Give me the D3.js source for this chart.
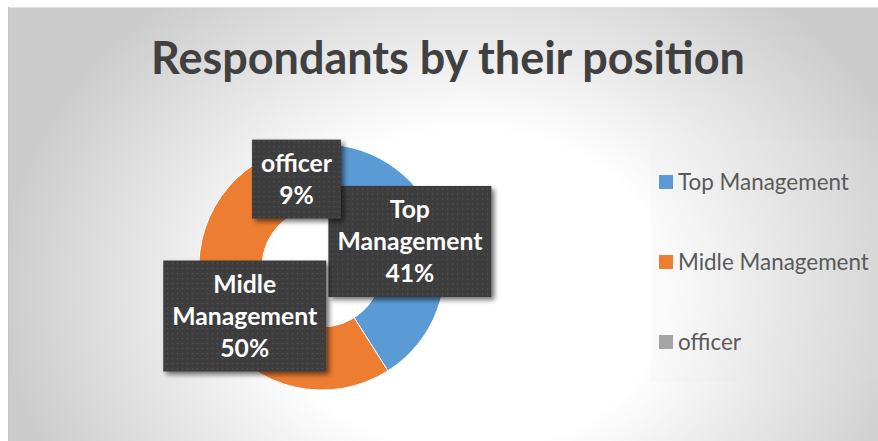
<!DOCTYPE html>
<html>
<head>
<meta charset="utf-8">
<script src="https://cdn.jsdelivr.net/npm/d3@7"></script>
<style>
  html, body { margin: 0; padding: 0; background: #ffffff; }
  svg { display: block; }
</style>
</head>
<body>
<svg id="chart" width="878" height="441"></svg>
<script>
// Survey breakdown of respondents by job position
const categories = ["Top Management", "Midle Management", "officer"];
const shares = [41, 50, 9];
const colors = ["#5B9BD5", "#ED7D31", "#A5A5A5"];
const titleText = "Respondants by their position";

const W = 878, H = 441;
const svg = d3.select("#chart");
const defs = svg.append("defs");

// Soft elliptical backdrop: white centre fading to grey at the edges
const bg = defs.append("radialGradient").attr("id", "bgGrad")
  .attr("gradientUnits", "userSpaceOnUse")
  .attr("cx", 0).attr("cy", 0).attr("r", 1)
  .attr("gradientTransform", "translate(470,290) scale(470,380)");
bg.append("stop").attr("offset", "0").attr("stop-color", "#ffffff");
bg.append("stop").attr("offset", "0.42").attr("stop-color", "#ffffff");
bg.append("stop").attr("offset", "0.66").attr("stop-color", "#e9e9e9");
bg.append("stop").attr("offset", "1").attr("stop-color", "#cccccc");

// Legend panel gradient
const lg = defs.append("linearGradient").attr("id", "legGrad")
  .attr("x1", 0).attr("x2", 1).attr("y1", 0).attr("y2", 0);
lg.append("stop").attr("offset", "0").attr("stop-color", "#f1f1f1");
lg.append("stop").attr("offset", "1").attr("stop-color", "#d8d8d8");

// Dotted texture for data label boxes
const pat = defs.append("pattern").attr("id", "dots")
  .attr("patternUnits", "userSpaceOnUse").attr("width", 5).attr("height", 5);
pat.append("rect").attr("width", 5).attr("height", 5).attr("fill", "#3c3c3c");
pat.append("rect").attr("x", 2).attr("y", 2).attr("width", 1.3).attr("height", 1.3).attr("fill", "#565656");

// Drop shadow for label boxes
const sh = defs.append("filter").attr("id", "shadow")
  .attr("x", "-20%").attr("y", "-20%").attr("width", "140%").attr("height", "140%");
sh.append("feGaussianBlur").attr("in", "SourceAlpha").attr("stdDeviation", 2.5).attr("result", "b");
sh.append("feOffset").attr("in", "b").attr("dx", 3).attr("dy", 3).attr("result", "o");
sh.append("feComponentTransfer").attr("in", "o").attr("result", "s")
  .append("feFuncA").attr("type", "linear").attr("slope", 0.55);
const mg = sh.append("feMerge");
mg.append("feMergeNode").attr("in", "s");
mg.append("feMergeNode").attr("in", "SourceGraphic");

// Chart area
svg.append("rect").attr("x", 8).attr("y", 7).attr("width", W - 8).attr("height", H - 7)
  .attr("fill", "url(#bgGrad)");
svg.append("line").attr("x1", 8).attr("x2", W).attr("y1", 7.5).attr("y2", 7.5)
  .attr("stroke", "#e2e2e2").attr("stroke-width", 1);
svg.append("line").attr("x1", 8.5).attr("x2", 8.5).attr("y1", 7).attr("y2", H)
  .attr("stroke", "#c4c4c4").attr("stroke-width", 1);

const FONT = "Lato, 'Open Sans', sans-serif";

// Fit a text element's font size so it spans the given width
function fitText(sel, width) {
  const len = sel.node().getComputedTextLength();
  const fs = parseFloat(sel.attr("font-size"));
  sel.attr("font-size", fs * width / len);
  return fs * width / len;
}

// Title
const title = svg.append("text")
  .attr("x", 448).attr("y", 74)
  .attr("text-anchor", "middle")
  .attr("font-family", FONT).attr("font-weight", 700)
  .attr("font-size", 40).attr("fill", "#404040")
  .text(titleText);
fitText(title, 594);

// Donut
const cx = 322, cy = 267, rOuter = 123, rInner = 60;
const pie = d3.pie().sort(null).value(d => d.v).startAngle(0).endAngle(2 * Math.PI);
const data = categories.map((c, i) => ({ c, v: shares[i], color: colors[i] }));
const arcs = pie(data);
const arc = d3.arc().innerRadius(rInner).outerRadius(rOuter);
const total = d3.sum(shares);

const g = svg.append("g").attr("transform", `translate(${cx},${cy})`);
g.selectAll("path.slice").data(arcs).join("path")
  .attr("class", "slice")
  .attr("d", arc)
  .attr("fill", d => d.data.color)
  .attr("stroke", "#ffffff").attr("stroke-width", 1);

// Label font sized so that the word "Management" is 145px wide
const probe = svg.append("text").attr("font-family", FONT).attr("font-weight", 700)
  .attr("font-size", 20).text("Management");
const labelFS = fitText(probe, 145);
probe.remove();

// Data labels: category name (wrapped) and percentage in dark boxes at slice centroids
const lineH = 32;
const padX = 9, padY = 8;
arcs.forEach(d => {
  const [lx, ly] = arc.centroid(d);
  const pct = Math.round(d.data.v / total * 100) + "%";
  const words = d.data.c.split(" ");
  const lines = words.concat([pct]);
  const lab = g.append("g").attr("transform", `translate(${lx},${ly})`);
  const box = lab.append("rect").attr("fill", "url(#dots)").attr("filter", "url(#shadow)");
  const t = lab.append("text")
    .attr("text-anchor", "middle")
    .attr("font-family", FONT).attr("font-weight", 700)
    .attr("font-size", labelFS).attr("fill", "#ffffff");
  const n = lines.length;
  lines.forEach((s, i) => {
    t.append("tspan").attr("x", 0)
      .attr("y", (i - (n - 1) / 2) * lineH)
      .attr("dy", "0.36em")
      .text(s);
  });
  let maxW = 0;
  t.selectAll("tspan").each(function () { maxW = Math.max(maxW, this.getComputedTextLength()); });
  const bw = maxW + 2 * padX;
  const bh = n * lineH + 2 * padY - 1;
  box.attr("x", -bw / 2).attr("y", -bh / 2).attr("width", bw).attr("height", bh);
});

// Legend
svg.append("rect").attr("x", 651).attr("y", 140).attr("width", W - 651).attr("height", 242)
  .attr("fill", "url(#legGrad)").attr("opacity", 0.3);
const legY = d3.scalePoint().domain(categories).range([182, 342]);
const leg = svg.append("g");
categories.forEach((c, i) => {
  const y = legY(c);
  leg.append("rect").attr("x", 659).attr("y", y - 7).attr("width", 14).attr("height", 14)
    .attr("fill", colors[i]);
  leg.append("text").attr("class", "legtext")
    .attr("x", 678).attr("y", y).attr("dy", "0.35em")
    .attr("font-family", FONT).attr("font-size", 20).attr("fill", "#595959")
    .text(c);
});
const widest = leg.selectAll("text.legtext").filter(function () { return this.textContent === "Midle Management"; });
const lfs = fitText(widest, 191);
leg.selectAll("text.legtext").attr("font-size", lfs);
</script>
</body>
</html>
